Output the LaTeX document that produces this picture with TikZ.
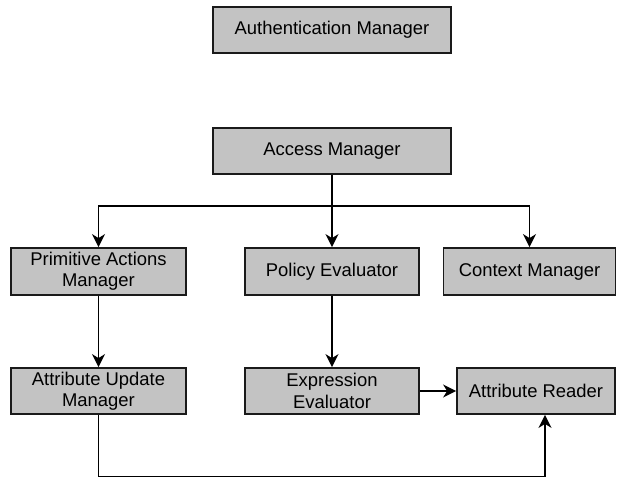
\documentclass[tikz,border=0pt]{standalone}
\usepackage{fontspec}
\setmainfont{Liberation Sans}
\usetikzlibrary{arrows.meta}
\definecolor{boxgray}{HTML}{C3C3C3}
\definecolor{edge}{HTML}{1A1A1A}
\begin{document}
\begin{tikzpicture}[x=1bp,y=-1bp,
  box/.style={draw=edge,fill=boxgray,line width=1.8bp,minimum height=46bp,inner sep=0pt,
    align=center,font=\fontsize{18.5}{21.5}\selectfont},
  arr/.style={line width=1.8bp,draw=black,-{Stealth[length=13bp,width=13bp,inset=4bp]}},
  ln/.style={line width=1.8bp,draw=black}]
\useasboundingbox (0,0) rectangle (617,478);
\node[box,minimum width=238bp] (auth) at (332,30) {Authentication Manager};
\node[box,minimum width=238bp] (access) at (332,151) {Access Manager};
\node[box,minimum width=175bp,minimum height=47bp] (prim) at (98.5,271.5) {Primitive Actions\\Manager};
\node[box,minimum width=174bp,minimum height=47bp] (policy) at (332,271.5) {Policy Evaluator};
\node[box,minimum width=172bp,minimum height=47bp] (context) at (529.5,271.5) {Context Manager};
\node[box,minimum width=175bp] (upd) at (98.5,391) {Attribute Update\\Manager};
\node[box,minimum width=174bp] (expr) at (332,391) {Expression\\Evaluator};
\node[box,minimum width=158bp] (reader) at (536,391) {Attribute Reader};
\coordinate (j) at (332,206);
\coordinate (b) at (545,476.5);
\draw[ln] (access.south) -- (j);
\draw[arr] (j) -| (prim.north);
\draw[arr] (j) -- (policy.north);
\draw[arr] (j) -| (context.north);
\draw[arr] (prim.south) -- (upd.north);
\draw[arr] (policy.south) -- (expr.north);
\draw[arr] (expr.east) -- (reader.west);
\draw[arr] (upd.south) |- (b) -- (b |- reader.south);
\end{tikzpicture}
\end{document}
